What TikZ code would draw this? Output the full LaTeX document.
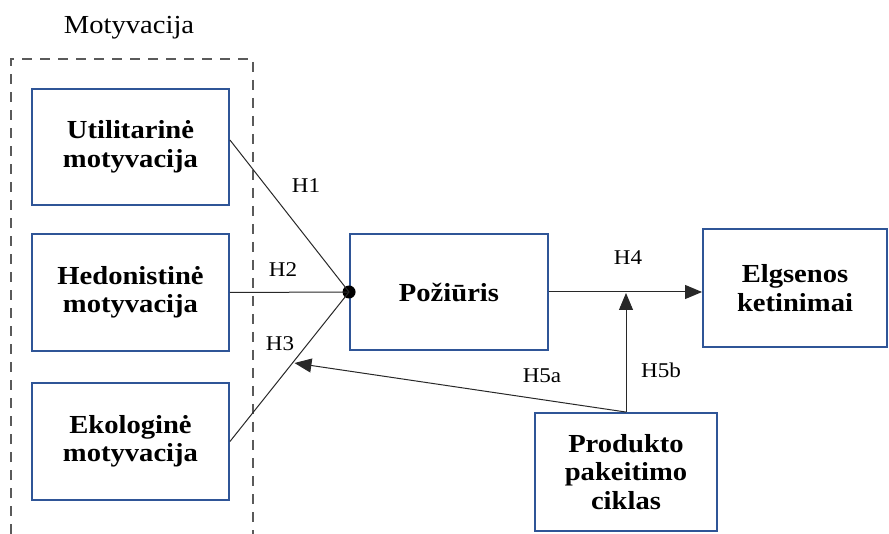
\documentclass[tikz,border=0pt]{standalone}
\usepackage{fontspec}
\setmainfont{Liberation Serif}[FakeStretch=1.1]
\usetikzlibrary{arrows.meta,calc}
\definecolor{boxblue}{RGB}{47,85,151}
\definecolor{frame}{RGB}{90,90,90}
\definecolor{wire}{RGB}{40,40,40}
\begin{document}
\begin{tikzpicture}[x=1pt,y=-1pt,
  box/.style={draw=boxblue,line width=1.9pt,align=center,inner sep=0pt,
    font=\fontsize{26}{28.5}\selectfont\bfseries},
  hyp/.style={anchor=base,inner sep=0pt,font=\fontsize{21}{24}\selectfont},
  link/.style={draw=wire,line width=1pt},
  tip/.style={-{Triangle[length=17pt,width=14pt]}}]
\useasboundingbox (0,0) rectangle (889,534);

% motivation group frame, open at the bottom
\draw[frame,line width=1.8pt,dash pattern=on 10pt off 8pt]
  (11,534) -- (11,59) -- (253,59) -- (253,534);
\node[anchor=base,inner sep=0pt,font=\fontsize{26}{30}\selectfont] (grp) at (129,34) {Motyvacija};

% boxes
\node[box,minimum width=197pt,minimum height=116pt] (u) at (130.5,147) {Utilitarinė\\motyvacija};
\node[box,minimum width=197pt,minimum height=117pt] (h) at (130.5,292.5) {Hedonistinė\\motyvacija};
\node[box,minimum width=197pt,minimum height=117pt] (e) at (130.5,441.5) {Ekologinė\\motyvacija};
\node[box,minimum width=198pt,minimum height=116pt] (p) at (449,292) {Požiūris};
\node[box,minimum width=184pt,minimum height=118pt] (b) at (795,288) {Elgsenos\\ketinimai};
\node[box,minimum width=182pt,minimum height=118pt] (c) at (626,472) {Produkto\\pakeitimo\\ciklas};

% junction dot on the attitude box
\fill[black] (p.west) circle (6.5pt);
\coordinate (dot) at (p.west);

% motivation paths
\draw[link] ([yshift=7pt]u.east) -- (dot);
\draw[link] (h.east) -- (dot);
\draw[link] (e.east) -- (dot);

% attitude -> intention
\coordinate (j) at (p.east -| c.north);
\draw[link,tip] (p.east) -- (p.east -| b.west);

% moderation paths
\coordinate (m) at ($(e.east)!0.525!(dot)$);
\draw[link,tip] (c.north) -- ([xshift=2pt]m);
\draw[link,tip] (c.north) -- ([yshift=-1pt]j);

% hypothesis labels
\node[hyp] (l1) at (306,193) {H1};
\node[hyp] (l2) at (283,277) {H2};
\node[hyp] (l3) at (280,351) {H3};
\node[hyp] (l4) at (628,265) {H4};
\node[hyp] (l5a) at (542,383) {H5a};
\node[hyp] (l5b) at (661,378) {H5b};
\end{tikzpicture}
\end{document}
